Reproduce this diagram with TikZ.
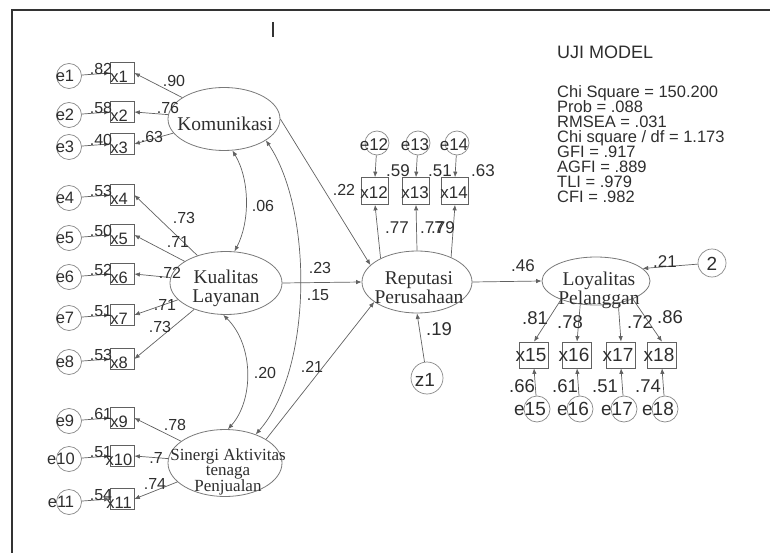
\documentclass[tikz,border=0pt]{standalone}
\usepackage{fontspec}
\usetikzlibrary{shapes.geometric,arrows.meta}
\newfontfamily\amosSans{Liberation Sans}
\newfontfamily\amosSerif{Liberation Serif}
\definecolor{ln}{gray}{0.38}
\definecolor{tx}{gray}{0.18}
\begin{document}
\begin{tikzpicture}[x=1pt,y=-1pt,
  lat/.style={draw=ln!85, line width=0.8pt, ellipse, inner sep=0pt},
  obs/.style={draw=ln, line width=0.7pt, rectangle, inner sep=0pt, minimum width=24pt, minimum height=21pt},
  obsR/.style={obs, minimum width=27pt, minimum height=27pt},
  obsL/.style={obs, minimum width=29pt, minimum height=26pt},
  err/.style={draw=ln!75, line width=0.7pt, circle, inner sep=0pt, minimum size=25pt},
  arr/.style={draw=ln, line width=0.7pt, -{Latex[length=5.5pt,width=4.5pt]}},
  cov/.style={draw=ln, line width=0.7pt, {Latex[length=5.5pt,width=4.5pt]}-{Latex[length=5.5pt,width=4.5pt]}},
  num/.style={font=\amosSans\fontsize{16}{16}\selectfont, text=tx, inner sep=0pt},
  numR/.style={font=\amosSans\fontsize{18.5}{18}\selectfont, text=tx, inner sep=0pt},
  lbl/.style={font=\amosSans\fontsize{16.5}{16}\selectfont, text=tx, inner sep=0pt},
  lblM/.style={font=\amosSans\fontsize{17}{16}\selectfont, text=tx, inner sep=0pt},
  lblR/.style={font=\amosSans\fontsize{19}{18}\selectfont, text=tx, inner sep=0pt},
  ser/.style={font=\amosSerif\fontsize{19.5}{19}\selectfont, text=tx, inner sep=0pt, align=center},
  metric/.style={font=\amosSans\fontsize{16.5}{15}\selectfont, text=tx, inner sep=0pt, anchor=base west}
]
\path[use as bounding box] (0,0) rectangle (770,553);
% frame
\draw[line width=1.2pt, black!80] (770,10) -- (12,10) -- (12,553);
\draw[line width=1.6pt, black!80] (273,22) -- (273,37);

% latent variables
\node[lat, minimum width=112pt, minimum height=63pt] (Kom) at (224,119) {};
\node[ser] (KomT) at (225,124) {Komunikasi};
\node[lat, minimum width=112pt, minimum height=63pt] (Kual) at (226,283) {};
\node[ser] (KualT) at (226,288) {Kualitas\\Layanan};
\node[lat, minimum width=114pt, minimum height=67pt] (Sin) at (225,463) {};
\node[ser, font=\amosSerif\fontsize{17}{15}\selectfont] (SinT) at (228,472) {Sinergi Aktivitas\\tenaga\\Penjualan};
\node[lat, minimum width=110pt, minimum height=62pt] (Rep) at (417,282) {};
\node[ser] (RepT) at (419,288) {Reputasi\\Perusahaan};
\node[lat, minimum width=108pt, minimum height=48pt] (Loy) at (596,281) {};
\node[ser, font=\amosSerif\fontsize{19.5}{17}\selectfont] (LoyT) at (599,290) {Loyalitas\\Pelanggan};

% left indicators
\foreach \i/\y/\v/\ex in {1/76/.82/65, 2/115/.58/65, 3/147/.40/65, 4/198/.53/65, 5/238/.50/65,
    6/277/.52/65, 7/318/.51/65, 8/362/.53/65, 9/421/.61/65, 10/459/.51/61, 11/502/.54/61}{
  \node[err] (e\i) at (69,\y) {};
  \node[lbl] (et\i) at (\ex,\y) {e\i};
  \node[obs] (x\i) at (122,\y-3) {};
  \node[lbl] (xt\i) at (119,\y+1) {x\i};
  \draw[arr] (e\i) -- (x\i.west);
  \node[num] (v\i) at (101,\y-7) {\v};
}
\foreach \i/\src in {1/Kom, 2/Kom, 3/Kom, 4/Kual, 5/Kual, 6/Kual, 7/Kual, 8/Kual, 9/Sin, 10/Sin, 11/Sin}{
  \draw[arr] (\src) -- (x\i.east);
}
\node[num] (l1) at (174,81) {.90};
\node[num] (l2) at (168,108) {.76};
\node[num] (l3) at (152,137) {.63};
\node[num] (l4) at (184,218) {.73};
\node[num] (l5) at (178,242) {.71};
\node[num] (l6) at (170,273) {.72};
\node[num] (l7) at (165,305) {.71};
\node[num] (l8) at (160,327) {.73};
\node[num] (l9) at (175,425) {.78};
\node[num] (l10) at (156,458) {.7};
\node[num] (l11) at (155,484) {.74};

% covariances
\draw[cov] (Kom.285) .. controls (250,180) and (250,222) .. (Kual.75);
\draw[cov] (Kual.265) .. controls (254,345) and (254,400) .. (Sin.85);
\draw[cov] (Kom.333) .. controls (313,210) and (313,370) .. (Sin.43);
\node[num] (c1) at (263,206) {.06};
\node[num] (c2) at (265,373) {.20};
\node[num] (c3) at (318,295) {.15};

% structural paths
\draw[arr] (Kom.east) -- (Rep.160);
\draw[arr] (Kual.east) -- (Rep.west);
\draw[arr] (Sin.30) -- (Rep.205);
\draw[arr] (Rep.east) -- (Loy.west);
\node[num] (p1) at (344,190) {.22};
\node[num] (p2) at (320,268) {.23};
\node[num] (p3) at (312,367) {.21};
\node[numR, font=\amosSans\fontsize{17}{17}\selectfont] (p4) at (523,266) {.46};

% Reputasi indicators
\foreach \i/\x in {12/375, 13/416, 14/455}{
  \node[err, minimum size=24pt] (e\i) at (\x+2,143) {};
  \node[lblM] (et\i) at (\x-1,145) {e\i};
  \node[obsR] (x\i) at (\x,191) {};
  \node[lblM] (xt\i) at (\x-1,193) {x\i};
  \draw[arr] (e\i) -- (x\i.north);
}
\draw[arr] (Rep.147) -- (x12.south);
\draw[arr] (Rep.north) -- (x13.south);
\draw[arr] (Rep.36) -- (x14.south);
\node[lblM] (r12) at (398,171) {.59};
\node[lblM] (r13) at (440,171) {.51};
\node[lblM] (r14) at (483,171) {.63};
\node[lblM] (k12) at (397,228) {.77};
\node[lblM] (k13) at (432,228) {.77};
\node[lblM] (k14) at (443,228) {.79};

% z1
\node[err, minimum size=32pt] (z1) at (427,378) {};
\node[lblR] (z1t) at (425,380) {z1};
\draw[arr] (z1) -- (Rep.south);
\node[numR] (d1) at (439,329) {.19};

% Loyalitas indicators
\foreach \i/\x/\a in {15/534/208, 16/577/236, 17/621/315, 18/662/334}{
  \node[obsL] (x\i) at (\x,355) {};
  \node[lblR] (xt\i) at (\x-3,355) {x\i};
  \node[err, minimum size=26pt] (e\i) at (\x+3,409) {};
  \node[lblR] (et\i) at (\x-4,409) {e\i};
  \draw[arr] (e\i) -- (x\i.south);
  \draw[arr] (Loy.\a) -- (x\i.north);
}
\node[numR] (k15) at (535,318) {.81};
\node[numR] (k16) at (570,322) {.78};
\node[numR] (k17) at (640,322) {.72};
\node[numR] (k18) at (670,317) {.86};
\node[numR] (r15) at (522,386) {.66};
\node[numR] (r16) at (565,386) {.61};
\node[numR] (r17) at (605,386) {.51};
\node[numR] (r18) at (648,386) {.74};

% z2
\node[err, minimum size=28pt] (z2) at (712,263) {};
\node[lblR] (z2t) at (712,264) {2};
\draw[arr] (z2) -- (Loy.15);
\node[numR, font=\amosSans\fontsize{17}{17}\selectfont] (d2) at (665,262) {.21};

% model fit
\node[metric, font=\amosSans\fontsize{18}{18}\selectfont] (m0) at (557,58.5) {UJI MODEL};
\node[metric] (m1) at (557,98) {Chi Square = 150.200};
\node[metric] (m2) at (557,113) {Prob = .088};
\node[metric] (m3) at (557,128) {RMSEA = .031};
\node[metric] (m4) at (557,143) {Chi square / df = 1.173};
\node[metric] (m5) at (557,158) {GFI = .917};
\node[metric] (m6) at (557,173) {AGFI = .889};
\node[metric] (m7) at (557,188) {TLI = .979};
\node[metric] (m8) at (557,203) {CFI = .982};
\end{tikzpicture}
\end{document}
